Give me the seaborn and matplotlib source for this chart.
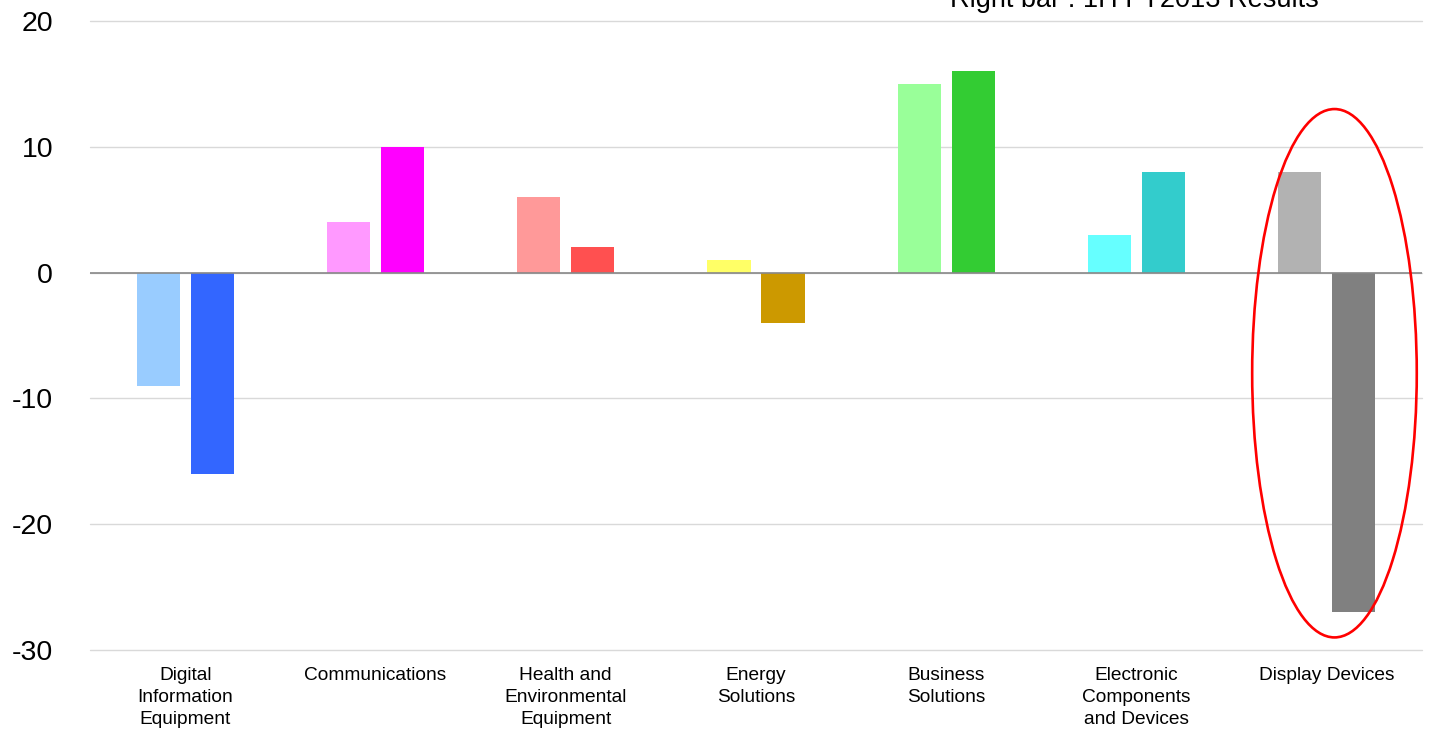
import matplotlib
matplotlib.use("Agg")
import matplotlib.pyplot as plt
from matplotlib.patches import Ellipse
import seaborn as sns
import pandas as pd

categories = ["Digital\nInformation\nEquipment", "Communications",
              "Health and\nEnvironmental\nEquipment", "Energy\nSolutions",
              "Business\nSolutions", "Electronic\nComponents\nand Devices",
              "Display Devices"]
left_values = [-9, 4, 6, 1, 15, 3, 8]
right_values = [-16, 10, 2, -4, 16, 8, -27]
left_colors = ["#99ccff", "#ff99ff", "#ff9999", "#ffff66", "#99ff99", "#66ffff", "#b2b2b2"]
right_colors = ["#3366ff", "#ff00ff", "#ff5050", "#cc9900", "#33cc33", "#33cccc", "#808080"]
y_ticks = [-30, -20, -10, 0, 10, 20]

sns.set_theme(style="white")
plt.rcParams["font.family"] = ["Liberation Sans", "DejaVu Sans"]

df = pd.DataFrame({
    "category": categories * 2,
    "series": ["left"] * len(categories) + ["right"] * len(categories),
    "value": left_values + right_values,
})

fig = plt.figure(figsize=(14.31, 7.33), dpi=100)
ax = fig.add_axes([90 / 1431, 1 - 650 / 733, (1422 - 90) / 1431, (650 - 21) / 733])

sns.barplot(data=df, x="category", y="value", hue="series", order=categories,
            hue_order=["left", "right"], width=0.568, gap=0.2, ax=ax,
            legend=False, errorbar=None, saturation=1)

colors = left_colors + right_colors
for p, c in zip(ax.patches, colors):
    p.set_facecolor(c)
    p.set_edgecolor("none")

ax.set_ylim(-30, 20)
ax.set_xlim(-0.5, len(categories) - 0.5)
ax.set_yticks(y_ticks)
ax.set_yticklabels([str(t) for t in y_ticks], fontsize=20.5, color="black")
ax.tick_params(axis="y", length=0, pad=26.5)
ax.tick_params(axis="x", length=0, pad=12, labelsize=13.8, labelcolor="black")
for lbl in ax.get_xticklabels():
    lbl.set_linespacing(1.38)
ax.set_xlabel("")
ax.set_ylabel("")
ax.grid(axis="y", color="#d9d9d9", linewidth=1)
for gl in ax.get_ygridlines():
    gl.set_clip_on(False)
ax.set_axisbelow(True)
for s in ax.spines.values():
    s.set_visible(False)
ax.axhline(0, color="#888888", linewidth=1.2, zorder=5)

ell = Ellipse((6.04, -8.0), width=0.865, height=42, fill=False,
              edgecolor="#ff0000", linewidth=1.9, zorder=6, clip_on=False)
ax.add_patch(ell)

fig.text(1134 / 1431, 1 - 7 / 733, "Right bar : 1H FY2013 Results",
         ha="center", va="baseline", fontsize=19.5, color="black")

fig.savefig("out.png", dpi=100, facecolor="white")
